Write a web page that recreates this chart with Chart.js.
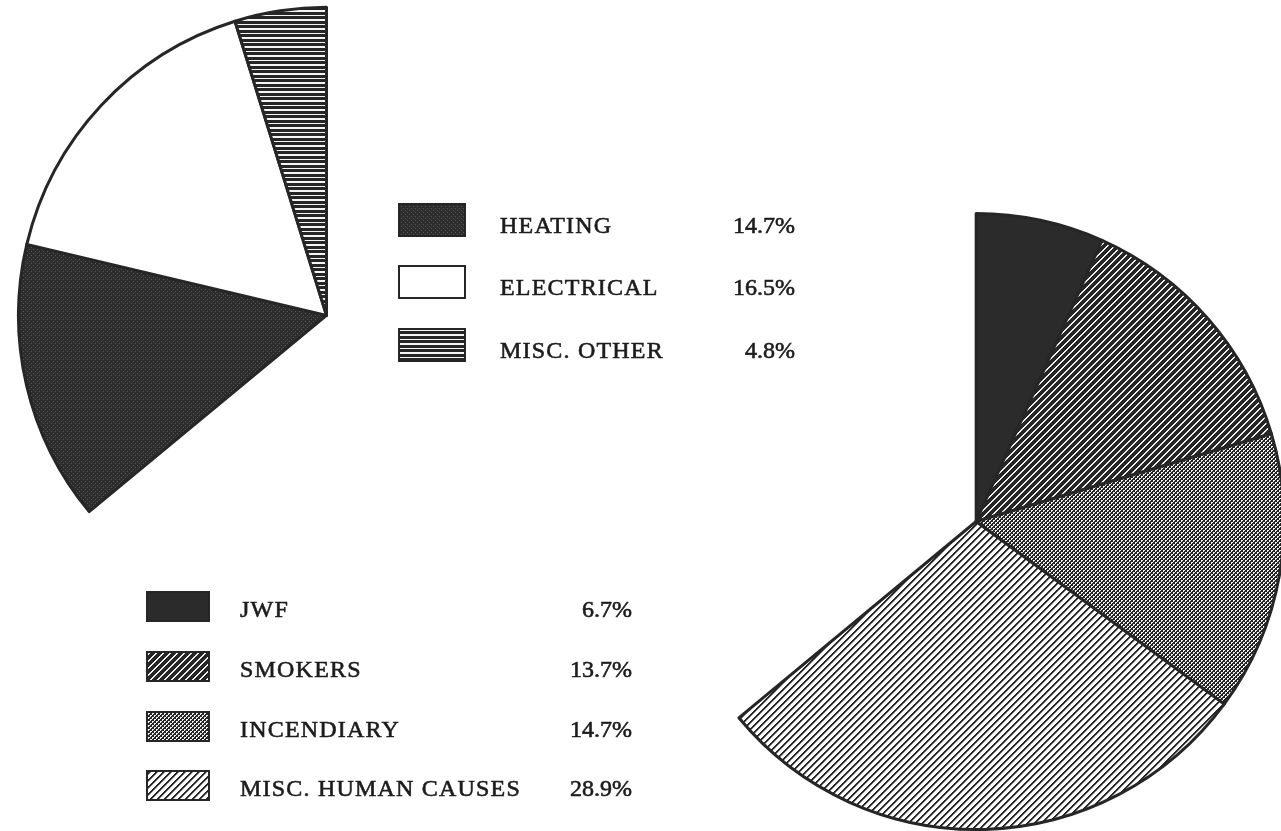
<!DOCTYPE html>
<html>
<head>
<meta charset="utf-8">
<title>Fire causes</title>
<script src="https://cdn.jsdelivr.net/npm/chart.js@4.4.1/dist/chart.umd.min.js"></script>
<style>
  html, body { margin: 0; padding: 0; background: #fff; }
  body { width: 1281px; height: 831px; overflow: hidden; position: relative; }
  canvas.pie { position: absolute; left: 0; top: 0; }
  .sw { position: absolute; box-sizing: border-box; border: 2px solid #262626; background-color: #fff; }
  .txt { position: absolute; font-family: "Liberation Serif", "DejaVu Serif", serif; font-size: 24px;
         line-height: 24px; color: #1c1c1c; white-space: nowrap; letter-spacing: 1.2px;
         -webkit-text-stroke: 0.6px #1c1c1c; }
  .pct { text-align: right; letter-spacing: 0; }
</style>
</head>
<body>
<canvas id="otherPie" class="pie" width="1281" height="831"></canvas>
<canvas id="humanPie" class="pie" width="1281" height="831"></canvas>
<div id="legends"></div>
<script>
// Causes not related to people (upper-left pie), percent of all fires
const otherLabels = ['HEATING', 'ELECTRICAL', 'MISC. OTHER'];
const otherValues = [14.7, 16.5, 4.8];

// Human causes (lower-right pie), percent of all fires
const humanLabels = ['JWF', 'SMOKERS', 'INCENDIARY', 'MISC. HUMAN CAUSES'];
const humanValues = [6.7, 13.7, 14.7, 28.9];

const INK = 0x26;

// Build a small grey-level tile; shade(x, y) returns 0..255
function makeTile(w, h, shade) {
  const c = document.createElement('canvas');
  c.width = w; c.height = h;
  const g = c.getContext('2d');
  const img = g.createImageData(w, h);
  for (let y = 0; y < h; y++) {
    for (let x = 0; x < w; x++) {
      const v = shade(x, y);
      const i = (y * w + x) * 4;
      img.data[i] = img.data[i + 1] = img.data[i + 2] = v;
      img.data[i + 3] = 255;
    }
  }
  g.putImageData(img, 0, 0);
  return c;
}

const tiles = {
  heating: makeTile(4, 4, (x, y) => ((x === 1 && y === 1) || (x === 3 && y === 3)) ? 0x5a : 0x2c),
  electrical: null,
  miscOther: makeTile(2, 9, (x, y) => (y === 0 || y === 4 || y === 5) ? 0xf4 : INK),
  jwf: makeTile(2, 2, () => 0x2b),
  smokers: makeTile(7, 7, (x, y) => ((x + y) % 7 < 2) ? 0xf0 : INK),
  // checkerboard with the dark cells slightly heavier than the light ones
  incendiary: makeTile(4, 4, (x, y) => {
    const light = (((x >> 1) + (y >> 1)) % 2) === 0 && !(x % 2 === 1 && y % 2 === 1);
    return light ? 0xf2 : INK;
  }),
  miscHuman: makeTile(7, 7, (x, y) => { const k = (x + y) % 7; return k < 2 ? INK : (k === 2 ? 0x90 : 0xff); })
};

function fillFrom(tile) {
  if (!tile) return '#ffffff';
  return document.createElement('canvas').getContext('2d').createPattern(tile, 'repeat');
}

const otherTiles = [tiles.heating, tiles.electrical, tiles.miscOther];
const humanTiles = [tiles.jwf, tiles.smokers, tiles.incendiary, tiles.miscHuman];

// Draw one partial pie; the arc spans the share of the whole (total %) of a full circle
function drawPie(id, labels, values, tileList, startDeg, cx, cy, radius) {
  const canvas = document.getElementById(id);
  const total = values.reduce((a, b) => a + b, 0);
  const chart = new Chart(canvas, {
    type: 'pie',
    data: {
      labels: labels,
      datasets: [{
        data: values,
        backgroundColor: tileList.map(fillFrom),
        borderColor: '#262626',
        borderWidth: 3,
        borderJoinStyle: 'round',
        hoverOffset: 0
      }]
    },
    options: {
      responsive: false,
      animation: false,
      events: [],
      rotation: startDeg(total),
      circumference: total * 3.6,
      radius: radius,
      layout: { padding: 0 },
      plugins: { legend: { display: false }, tooltip: { enabled: false } }
    }
  });
  // place the pie's centre on the page
  const arc = chart.getDatasetMeta(0).data[0];
  canvas.style.left = (cx - arc.x) + 'px';
  canvas.style.top = (cy - arc.y) + 'px';
  return chart;
}

drawPie('otherPie', otherLabels, otherValues, otherTiles, t => -t * 3.6, 326, 315, 308);
drawPie('humanPie', humanLabels, humanValues, humanTiles, () => 0, 976, 521, 308);

// Legends: swatch, label and percentage per row
function legend(labels, values, tileList, g) {
  const host = document.getElementById('legends');
  labels.forEach((name, i) => {
    const sw = document.createElement('div');
    sw.className = 'sw';
    sw.style.left = g.boxX + 'px';
    sw.style.top = (g.boxY + i * g.step) + 'px';
    sw.style.width = g.boxW + 'px';
    sw.style.height = g.boxH + 'px';
    if (tileList[i]) sw.style.backgroundImage = 'url(' + tileList[i].toDataURL() + ')';
    host.appendChild(sw);

    const base = g.base + i * g.step;
    const t = document.createElement('div');
    t.className = 'txt';
    t.textContent = name;
    t.style.left = g.textX + 'px';
    t.style.top = (base - 20) + 'px';
    host.appendChild(t);

    const p = document.createElement('div');
    p.className = 'txt pct';
    p.textContent = values[i].toFixed(1) + '%';
    p.style.right = (1281 - g.pctRight) + 'px';
    p.style.top = (base - 20) + 'px';
    host.appendChild(p);
  });
}

legend(otherLabels, otherValues, otherTiles,
  { boxX: 398, boxY: 203, boxW: 68, boxH: 34, step: 62.3, textX: 500, base: 233, pctRight: 795 });
legend(humanLabels, humanValues, humanTiles,
  { boxX: 146, boxY: 591, boxW: 64, boxH: 31, step: 59.8, textX: 240, base: 617, pctRight: 632 });
</script>
</body>
</html>
